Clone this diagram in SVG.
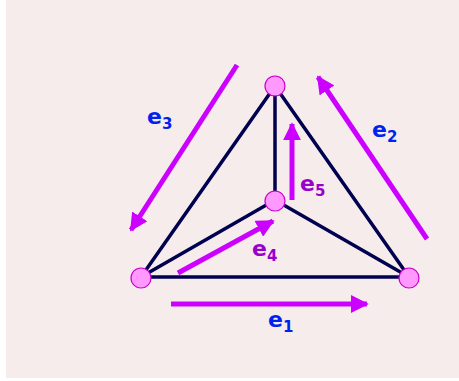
<svg xmlns="http://www.w3.org/2000/svg" width="459" height="381" viewBox="0 0 459 381">
<style>
.edge{stroke:#000050;stroke-width:3.5;fill:none;stroke-linecap:round}
.arr{stroke:#CC00FF;stroke-width:5;fill:none}
.node{fill:#FF99FF;stroke:#CC00CC;stroke-width:1.2}
.lb{font-family:"DejaVu Sans",sans-serif;font-weight:bold;font-size:22px}
.sub{font-size:15px}
.blue{fill:#0022EE}
.purp{fill:#9900CC}
</style>
<defs>
<marker id="ah" viewBox="0 0 10 10" refX="9" refY="5" markerWidth="3.6" markerHeight="3.6" orient="auto" markerUnits="strokeWidth">
<path d="M0,0 L10,5 L0,10 Z" fill="#CC00FF"/>
</marker>
</defs>
<rect x="0" y="0" width="459" height="381" fill="#FFFFFF"/>
<rect x="6" y="0" width="453" height="378" fill="#F7ECEC"/>
<g id="connectors">
<line class="edge" x1="141" y1="277" x2="409" y2="277"/>
<line class="edge" x1="141" y1="277" x2="275" y2="86"/>
<line class="edge" x1="409" y1="277" x2="275" y2="86"/>
<line class="edge" x1="275" y1="86" x2="275" y2="200"/>
<line class="edge" x1="141" y1="277" x2="275" y2="200"/>
<line class="edge" x1="409" y1="277" x2="275" y2="200"/>
<line id="e1" class="arr" x1="171" y1="304" x2="367" y2="304" marker-end="url(#ah)"/>
<line id="e2" class="arr" x1="427" y1="239" x2="318" y2="77" marker-end="url(#ah)"/>
<line id="e3" class="arr" x1="237" y1="65" x2="131" y2="230" marker-end="url(#ah)"/>
<line id="e4" class="arr" x1="178" y1="273" x2="273" y2="221" marker-end="url(#ah)"/>
<line id="e5" class="arr" x1="292" y1="200" x2="292" y2="124" marker-end="url(#ah)"/>
</g>
<g id="n_top"><circle class="node" cx="275" cy="86" r="10"/></g>
<g id="n_center"><circle class="node" cx="275" cy="201" r="10"/></g>
<g id="n_left"><circle class="node" cx="141" cy="278" r="10"/></g>
<g id="n_right"><circle class="node" cx="409" cy="278" r="10"/></g>
<g id="labels">
<text class="lb blue" x="147" y="124">e<tspan class="sub" dy="5">3</tspan></text>
<text class="lb blue" x="372" y="137">e<tspan class="sub" dy="5">2</tspan></text>
<text class="lb purp" x="300" y="191">e<tspan class="sub" dy="5">5</tspan></text>
<text class="lb purp" x="252" y="256">e<tspan class="sub" dy="5">4</tspan></text>
<text class="lb blue" x="268" y="327">e<tspan class="sub" dy="5">1</tspan></text>
</g>
</svg>
